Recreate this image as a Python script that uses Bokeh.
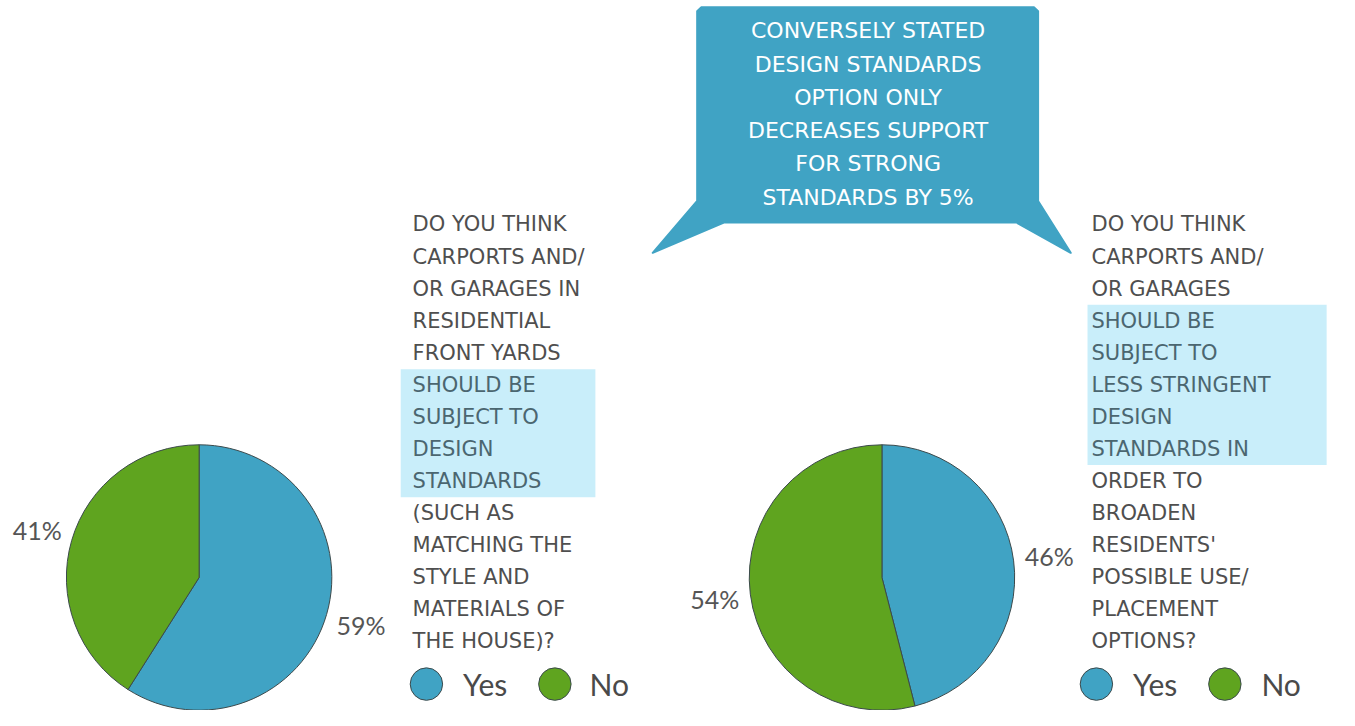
import numpy as np
from bokeh.plotting import figure
from bokeh.models import Range1d, ColumnDataSource
from bokeh.core.properties import value
from bokeh.embed import file_html
from bokeh.resources import INLINE

# ---------------- data ----------------
answers = ["Yes", "No"]
chart1_pct = [59, 41]
chart2_pct = [46, 54]
answer_colors = ["#40a3c4", "#5fa41f"]

question1 = ["DO YOU THINK", "CARPORTS AND/", "OR GARAGES IN", "RESIDENTIAL",
             "FRONT YARDS", "SHOULD BE", "SUBJECT TO", "DESIGN", "STANDARDS",
             "(SUCH AS", "MATCHING THE", "STYLE AND", "MATERIALS OF", "THE HOUSE)?"]
question1_highlight = [False] * 5 + [True] * 4 + [False] * 5

question2 = ["DO YOU THINK", "CARPORTS AND/", "OR GARAGES", "SHOULD BE",
             "SUBJECT TO", "LESS STRINGENT", "DESIGN", "STANDARDS IN",
             "ORDER TO", "BROADEN", "RESIDENTS'", "POSSIBLE USE/",
             "PLACEMENT", "OPTIONS?"]
question2_highlight = [False] * 3 + [True] * 5 + [False] * 6

callout = ["CONVERSELY STATED", "DESIGN STANDARDS", "OPTION ONLY",
           "DECREASES SUPPORT", "FOR STRONG", "STANDARDS BY 5%"]

# ---------------- layout helpers ----------------
W, H = 1339, 710
SX, SY = W / 1355.0, H / 726.0
S = (SX + SY) / 2


def px(X):
    return X * SX


def py(Y):
    return H - Y * SY


CAPS_FONT = value("DejaVu Sans")
NUM_FONT = value("Lato")
TEXT_COLOR = "#4f4f4f"
HL_TEXT_COLOR = "#4b6670"
HL_FILL = "#c9eefa"
BLUE = answer_colors[0]

p = figure(width=W, height=H, output_backend="svg", toolbar_location=None,
           x_range=Range1d(0, W), y_range=Range1d(0, H),
           x_axis_type=None, y_axis_type=None, min_border=0,
           background_fill_color="white", border_fill_color="white")
p.outline_line_color = None
p.grid.visible = False

# ---------------- callout ----------------
cx_poly = [709, 1046, 1050, 1050, 1083, 1028, 732, 660, 705, 705]
cy_poly = [7, 7, 11, 205, 258, 227, 227, 258, 205, 11]
p.patch([px(x) for x in cx_poly], [py(y) for y in cy_poly],
        fill_color=BLUE, line_color=BLUE, line_join="round", line_width=2)
p.text(x=[px(878)] * len(callout),
       y=[py(31 + 34 * i) for i in range(len(callout))],
       text=callout, text_color="white", text_font=CAPS_FONT,
       text_font_size="22px", text_align="center", text_baseline="middle")


# ---------------- question text blocks ----------------
def question_block(lines, highlight, x0, y0, hl_box):
    l, r, t, b = hl_box
    p.quad(left=px(l), right=px(r), top=py(t), bottom=py(b),
           fill_color=HL_FILL, line_color=None)
    ys = [py(y0 + 32.8 * i) for i in range(len(lines))]
    cols = [HL_TEXT_COLOR if h else TEXT_COLOR for h in highlight]
    p.text(x=[px(x0)] * len(lines), y=ys, text=lines, text_color=cols,
           text_font=CAPS_FONT, text_font_size="21px",
           text_align="left", text_baseline="middle")


question_block(question1, question1_highlight, 417, 229, (405, 602, 377, 508))
question_block(question2, question2_highlight, 1104, 229, (1100, 1342, 311, 475))


# ---------------- pies ----------------
def draw_pie(cX, cY, r, pct):
    v = np.array(pct, dtype=float)
    frac = v / v.sum()
    cum = np.concatenate([[0.0], np.cumsum(frac)])
    start = np.pi / 2 - 2 * np.pi * cum[1:]
    end = np.pi / 2 - 2 * np.pi * cum[:-1]
    src = ColumnDataSource(dict(start=start, end=end, color=answer_colors))
    x, y = px(cX), py(cY)
    rr = r * S
    p.wedge(x=x, y=y, radius=rr, start_angle="start", end_angle="end",
            fill_color="color", line_color="#3c4a4c", line_width=1, source=src)
    mid = (start + end) / 2
    lx = x + 1.27 * rr * np.cos(mid)
    ly = y + 1.27 * rr * np.sin(mid)
    p.text(x=lx, y=ly, text=[f"{int(a)}%" for a in pct], text_color="#555555",
           text_font=NUM_FONT, text_font_size="25px",
           text_align="center", text_baseline="middle")


draw_pie(201, 590, 135, chart1_pct)
draw_pie(892, 590, 135, chart2_pct)


# ---------------- legends ----------------
def legend(circle_x, text_x, yY):
    p.circle(x=[px(c) for c in circle_x], y=[py(yY)] * 2, radius=16.5 * S,
             fill_color=answer_colors, line_color="#3c4a4c", line_width=1)
    p.text(x=[px(t) for t in text_x], y=[py(yY)] * 2, text=answers,
           text_color="#4a4a4a", text_font=NUM_FONT, text_font_size="30px",
           text_align="left", text_baseline="middle")


legend([431, 561], [468, 596], 699)
legend([1109, 1239], [1146, 1276], 699)

open("out.html", "w").write(file_html(p, INLINE))
